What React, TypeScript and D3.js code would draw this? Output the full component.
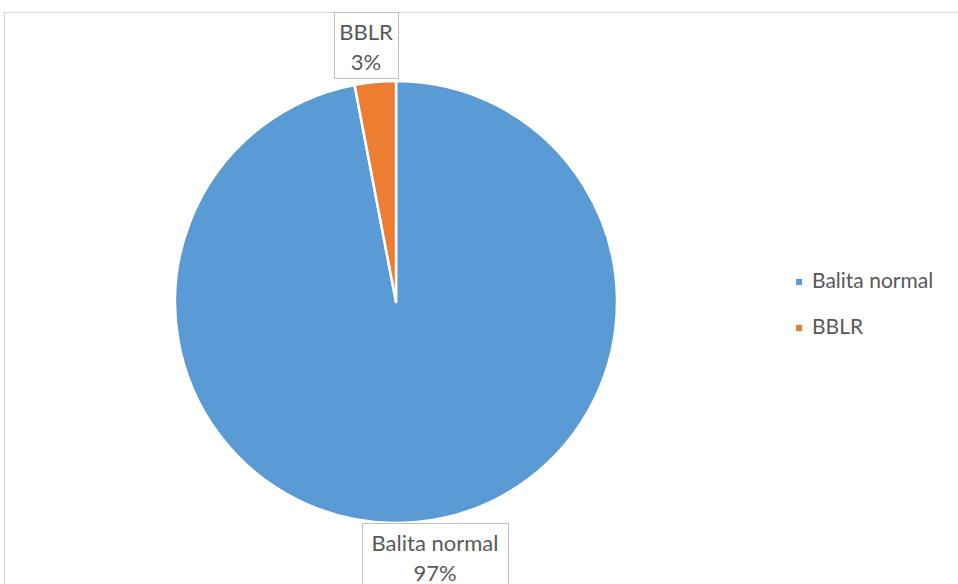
import React from "react";
import * as d3 from "d3";

const categories = ["Balita normal", "BBLR"];
const values = [97, 3];
const labels = ["97%", "3%"];
const colors = ["#5B9BD5", "#ED7D31"];

const W = 958;
const H = 584;
const FONT = "Lato, 'Open Sans', sans-serif";
const TEXT = "#595959";

export default function App() {
  const cx = 396;
  const cy = 302;
  const r = 221;
  const pie = d3.pie<number>().sort(null).value((d) => d)(values);
  const arc = d3.arc<d3.PieArcDatum<number>>().innerRadius(0).outerRadius(r);
  const edge = d3.arc<d3.PieArcDatum<number>>().innerRadius(r).outerRadius(r);
  const labelShift = [
    [18, 34],
    [-9, -37],
  ];
  const boxW = [146, 64];
  const fs = 22;

  return (
    <svg width={W} height={H} style={{ position: "absolute", left: 0, top: 0, background: "#fff" }}>
      <rect x={4.5} y={12.5} width={W + 10} height={H + 10} fill="#fff" stroke="#d9d9d9" strokeWidth={1} />
      <g transform={`translate(${cx},${cy})`}>
        {pie.map((p, i) => (
          <path key={i} d={arc(p) || ""} fill={colors[i]} stroke="#fff" strokeWidth={2.5} strokeLinejoin="round" />
        ))}
        {pie.map((p, i) => {
          const [ex, ey] = edge.centroid(p);
          const lx = Math.round(ex + labelShift[i][0]);
          const ly = Math.round(ey + labelShift[i][1]);
          const bw = boxW[i];
          const bh = 66;
          return (
            <g key={"l" + i} transform={`translate(${lx},${ly})`}>
              <rect x={-bw / 2 + 0.5} y={-bh / 2 + 0.5} width={bw} height={bh} fill="#fff" stroke="#bfbfbf" />
              <text textAnchor="middle" y={-5} fontFamily={FONT} fontSize={fs} fill={TEXT}>
                {categories[i]}
              </text>
              <text textAnchor="middle" y={25} fontFamily={FONT} fontSize={fs} fill={TEXT}>
                {labels[i]}
              </text>
            </g>
          );
        })}
      </g>
      <g transform="translate(796,0)">
        {categories.map((c, i) => (
          <g key={c} transform={`translate(0,${282 + i * 46})`}>
            <rect x={0} y={-3} width={6} height={6} fill={colors[i]} />
            <text x={16} y={6} fontFamily={FONT} fontSize={fs - 1} fill={TEXT}>
              {c}
            </text>
          </g>
        ))}
      </g>
    </svg>
  );
}
